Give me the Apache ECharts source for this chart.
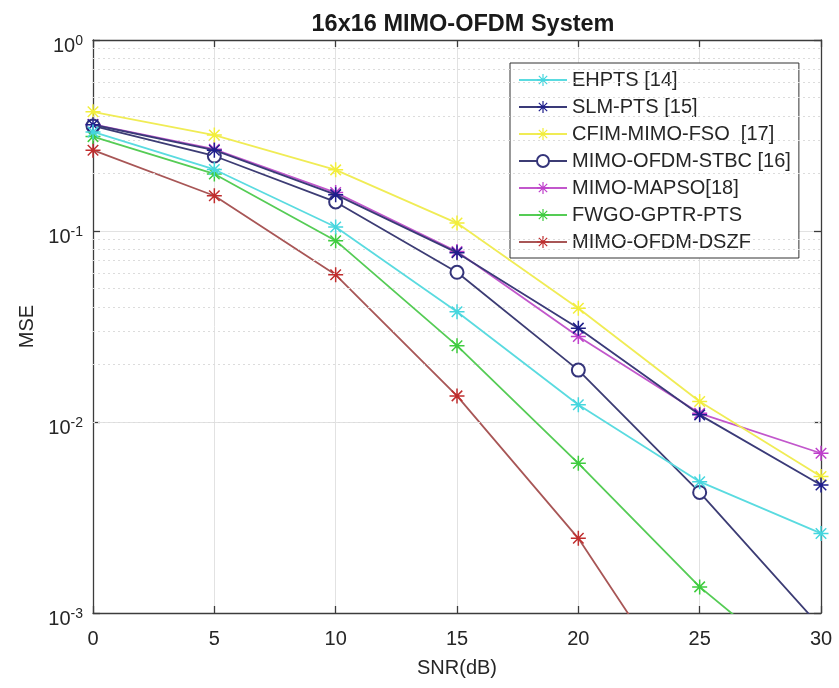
<!DOCTYPE html>
<html>
<head>
<meta charset="utf-8">
<script src="https://cdn.jsdelivr.net/npm/echarts@6/dist/echarts.min.js"></script>
<style>
html,body{margin:0;padding:0;background:#fff;}
#chart{width:839px;height:688px;}
</style>
</head>
<body>
<div id="chart"></div>
<script>
// ---- data ----
var snr = [0, 5, 10, 15, 20, 25, 30];
var seriesNames = ['EHPTS [14]', 'SLM-PTS [15]', 'CFIM-MIMO-FSO  [17]', 'MIMO-OFDM-STBC [16]', 'MIMO-MAPSO[18]', 'FWGO-GPTR-PTS', 'MIMO-OFDM-DSZF'];
var ehpts  = [0.33, 0.21, 0.105, 0.0378, 0.0123, 0.00487, 0.00261];
var slmPts = [0.36, 0.265, 0.155, 0.077, 0.0310, 0.0109, 0.00468];
var cfim   = [0.421, 0.318, 0.209, 0.110, 0.0394, 0.0128, 0.00518];
var stbc   = [0.355, 0.247, 0.142, 0.0608, 0.0187, 0.00428, 0.00084];
var mapso  = [0.362, 0.268, 0.159, 0.078, 0.0280, 0.0111, 0.00686];
var fwgo   = [0.312, 0.199, 0.089, 0.0251, 0.00608, 0.00137, 0.00041];
var dszf   = [0.265, 0.153, 0.059, 0.0137, 0.00246, 0.00027, null];
var xTicks = [0, 5, 10, 15, 20, 25, 30];
var yTicks = [0.001, 0.01, 0.1, 1];
var yMinorGrid = [0.002,0.003,0.004,0.005,0.006,0.007,0.008,0.009,
                  0.02,0.03,0.04,0.05,0.06,0.07,0.08,0.09,
                  0.2,0.3,0.4,0.5,0.6,0.7,0.8,0.9];

// ---- styling ----
var STAR = 'path://M-1,-10 L1,-10 L1,10 L-1,10 Z M-10,-1 L10,-1 L10,1 L-10,1 Z M-6.3,-7.7 L7.7,6.3 L6.3,7.7 L-7.7,-6.3 Z M6.3,-7.7 L7.7,-6.3 L-6.3,7.7 L-7.7,6.3 Z';
var styles = [
  {line:'#5ADBE0', mark:'#45D6DE', sym:STAR},
  {line:'#3A3A78', mark:'#1E1E8C', sym:STAR},
  {line:'#F0EC55', mark:'#F2EE3A', sym:STAR},
  {line:'#3C3C74', mark:'#34347A', sym:'emptyCircle'},
  {line:'#C257CC', mark:'#BF3FCC', sym:STAR},
  {line:'#55CC55', mark:'#3FCC3F', sym:STAR},
  {line:'#A85656', mark:'#C02E2E', sym:STAR}
];
var dataSets = [ehpts, slmPts, cfim, stbc, mapso, fwgo, dszf];
var FONT = 'Liberation Sans, Arial, sans-serif';

var series = dataSets.map(function (d, i) {
  var st = styles[i];
  var isCircle = st.sym === 'emptyCircle';
  return {
    name: seriesNames[i],
    type: 'line',
    data: snr.map(function (x, k) { return [x, d[k]]; }),
    symbol: st.sym,
    symbolSize: isCircle ? 13 : 15,
    showAllSymbol: true,
    clip: true,
    z: 10 - i,
    lineStyle: {color: st.line, width: 1.8},
    itemStyle: isCircle ? {color: st.mark, borderColor: st.mark, borderWidth: 1.6}
                        : {color: st.mark, borderWidth: 0},
    emphasis: {disabled: true}
  };
});
// minor grid lines (decoration) attached to first series
series[0].markLine = {
  silent: true,
  symbol: 'none',
  label: {show: false},
  lineStyle: {color: '#DCDCDC', type: [2, 3], width: 1},
  emphasis: {disabled: true},
  animation: false,
  data: yMinorGrid.map(function (v) { return {yAxis: v}; })
};

function supLabel(v) {
  var e = Math.round(Math.log10(v));
  return '{b|10}{s|' + e + '}';
}

var axisLineStyle = {color: '#3C3C3C', width: 1.3};
var option = {
  animation: false,
  backgroundColor: '#ffffff',
  title: {
    text: '16x16 MIMO-OFDM System',
    left: 458, top: 8, textAlign: 'center',
    textStyle: {fontFamily: FONT, fontWeight: 'bold', fontSize: 23.5, color: '#1a1a1a'}
  },
  grid: {left: 93, right: 18, top: 40, bottom: 75, show: false},
  legend: {
    left: 510, top: 63,
    orient: 'vertical',
    backgroundColor: '#ffffff',
    borderColor: '#333333', borderWidth: 1,
    padding: [7, 8, 6, 8],
    itemWidth: 48, itemHeight: 15,
    itemGap: 7,
    textStyle: {fontFamily: FONT, fontSize: 20, color: '#262626', lineHeight: 20},
    data: seriesNames
  },
  xAxis: [{
    type: 'value', min: 0, max: 30, interval: 5,
    name: 'SNR(dB)', nameLocation: 'middle', nameGap: 45,
    nameTextStyle: {fontFamily: FONT, fontSize: 20, color: '#262626'},
    axisLine: {show: true, onZero: false, lineStyle: axisLineStyle},
    axisTick: {show: true, inside: true, length: 7, lineStyle: axisLineStyle},
    axisLabel: {fontFamily: FONT, fontSize: 20, color: '#262626', margin: 16,
      formatter: function (v) { return xTicks.indexOf(v) >= 0 ? String(v) : ''; }},
    splitLine: {show: true, lineStyle: {color: '#E2E2E2', width: 1}}
  }, {
    type: 'value', min: 0, max: 30, interval: 5, position: 'top',
    axisLine: {show: true, onZero: false, lineStyle: axisLineStyle},
    axisTick: {show: true, inside: true, length: 7, lineStyle: axisLineStyle},
    axisLabel: {show: false}, splitLine: {show: false}
  }],
  yAxis: [{
    type: 'log', logBase: 10, min: 0.001, max: 1,
    name: 'MSE', nameLocation: 'middle', nameGap: 52,
    nameTextStyle: {fontFamily: FONT, fontSize: 20, color: '#262626'},
    axisLine: {show: true, onZero: false, lineStyle: axisLineStyle},
    axisTick: {show: true, inside: true, length: 7, lineStyle: axisLineStyle},
    axisLabel: {
      margin: 10,
      padding: [10, 0, 0, 0],
      formatter: supLabel,
      rich: {
        b: {fontFamily: FONT, fontSize: 20, color: '#262626', verticalAlign: 'bottom', lineHeight: 22},
        s: {fontFamily: FONT, fontSize: 14, color: '#262626', verticalAlign: 'top', lineHeight: 22}
      }
    },
    splitLine: {show: true, lineStyle: {color: '#E2E2E2', width: 1}}
  }, {
    type: 'log', logBase: 10, min: 0.001, max: 1, position: 'right',
    axisLine: {show: true, onZero: false, lineStyle: axisLineStyle},
    axisTick: {show: true, inside: true, length: 7, lineStyle: axisLineStyle},
    axisLabel: {show: false}, splitLine: {show: false}
  }],
  series: series
};

var chart = echarts.init(document.getElementById('chart'), null, {renderer: 'canvas'});
chart.setOption(option);
</script>
</body>
</html>
